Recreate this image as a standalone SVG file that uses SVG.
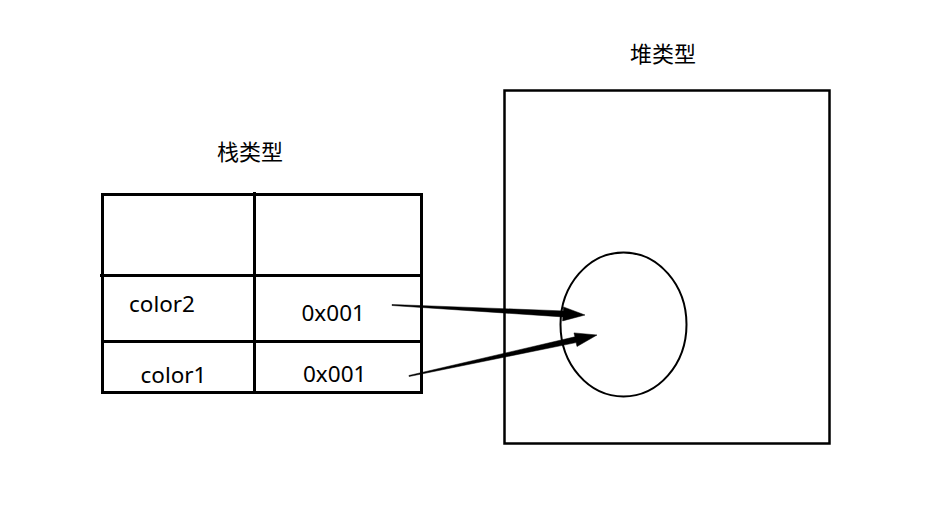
<svg xmlns="http://www.w3.org/2000/svg" width="927" height="515" viewBox="0 0 927 515">
<style>
.ln{stroke:#000;stroke-width:3;fill:none}
.t{font-family:"Noto Sans","Noto Sans CJK SC",sans-serif;font-size:22.5px;fill:#000}
.c{font-family:"Noto Sans CJK SC","Noto Sans",sans-serif;font-size:22px;fill:#000;text-anchor:middle}
.arr{fill:#000;stroke:#000;stroke-width:0.5}
</style>
<rect width="927" height="515" fill="#fff"/>
<g id="stack">
<text class="c" x="250" y="160">栈类型</text>
<rect class="ln" x="102.5" y="194.5" width="319" height="198"/>
<line class="ln" x1="254.5" y1="192" x2="254.5" y2="392"/>
<line class="ln" x1="100" y1="275.5" x2="421" y2="275.5"/>
<line class="ln" x1="102" y1="341.5" x2="421" y2="341.5"/>
<text class="t" x="129" y="312">color2</text>
<text class="t" x="301.5" y="321">0x001</text>
<text class="t" x="140.5" y="383">color1</text>
<text class="t" x="303" y="382">0x001</text>
</g>
<g id="heap">
<text class="c" x="663" y="62">堆类型</text>
<rect class="ln" x="504.5" y="90.5" width="325" height="353" style="stroke-width:2.5"/>
<ellipse class="ln" cx="623.5" cy="324.5" rx="63" ry="72" style="stroke-width:2"/>
</g>
<g id="connectors">
<polygon class="arr" points="392,304.5 563.2,310.9 563.4,306.9 585,315 562.6,320.9 562.8,316.9 392,305.5"/>
<polygon class="arr" points="408.9,375.5 574.9,336.8 574,332.9 597,335 577,346.5 576.1,342.6 409.1,376.5"/>
</g>
</svg>
